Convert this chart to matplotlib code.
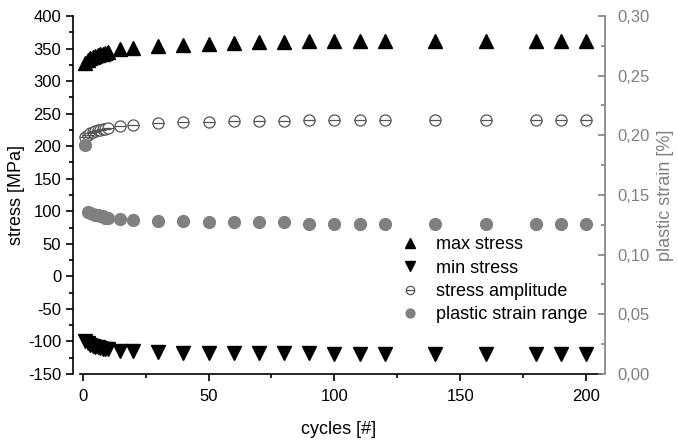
import numpy as np
import matplotlib
matplotlib.use("Agg")
from matplotlib import pyplot as plt
from matplotlib.ticker import MultipleLocator, FuncFormatter
from matplotlib.legend_handler import HandlerTuple

plt.rcParams['font.family'] = ['Liberation Sans', 'DejaVu Sans']
plt.rcParams['axes.unicode_minus'] = False

# cycle numbers
cycles = [1, 2, 3, 4, 5, 6, 7, 8, 9, 10, 15, 20, 30, 40, 50, 60, 70, 80, 90,
          100, 110, 120, 140, 160, 180, 190, 200]

# stresses in MPa
max_stress = [328, 332, 335, 337, 339, 340, 341, 342, 343, 344, 349, 351, 354,
              356, 357, 359, 360, 360, 361, 361, 361, 362, 362, 362, 362, 362, 362]
min_stress = [-100, -103, -105, -107, -108, -109, -110, -111, -111, -112, -114,
              -115, -116, -117, -117, -118, -118, -118, -118, -119, -119, -119,
              -119, -119, -119, -119, -119]
stress_amp = [214, 217.5, 220, 222, 223.5, 224.5, 225.5, 226.5, 227, 228, 231.5,
              233, 235, 236.5, 237, 238.5, 239, 239, 239.5, 240, 240, 240.5,
              240.5, 240.5, 240.5, 240.5, 240.5]

# plastic strain range in %
plastic_strain = [0.192, 0.136, 0.135, 0.134, 0.133, 0.133, 0.132, 0.132, 0.131,
                  0.131, 0.130, 0.129, 0.128, 0.128, 0.127, 0.127, 0.127, 0.127,
                  0.126, 0.126, 0.126, 0.126, 0.126, 0.126, 0.126, 0.126, 0.126]

GREY = '#808080'

fig = plt.figure(figsize=(6.78, 4.45), dpi=100)
ax = fig.add_axes([73 / 678, 1 - 374 / 445, 532 / 678, 358 / 445])
ax2 = ax.twinx()

h_max, = ax.plot(cycles, max_stress, '^', color='black', ms=10, ls='none')
h_min, = ax.plot(cycles, min_stress, 'v', color='black', ms=10, ls='none')
h_amp1, = ax.plot(cycles, stress_amp, 'o', mfc='white', mec='#555555', mew=0.9,
                  ms=8, ls='none')
h_amp2, = ax.plot(cycles, stress_amp, '_', color='#555555', mew=0.9, ms=8,
                  ls='none')
h_pl, = ax2.plot(cycles, plastic_strain, 'o', color=GREY, ms=8.5, ls='none')

ax.set_xlim(-3.8, 207.4)
ax.set_ylim(-150, 400)
ax2.set_ylim(0, 0.3)

for a in (ax, ax2):
    a.spines['top'].set_visible(False)
ax2.spines['left'].set_visible(False)
ax2.spines['bottom'].set_visible(False)
ax.spines['right'].set_visible(False)
ax.spines['bottom'].set_bounds(-1, 206)
ax2.spines['right'].set_color(GREY)
ax2.spines['right'].set_linewidth(1.2)
ax.spines['left'].set_linewidth(1.2)
ax.spines['bottom'].set_linewidth(1.2)

ax.xaxis.set_major_locator(MultipleLocator(50))
ax.xaxis.set_minor_locator(MultipleLocator(25))
ax.yaxis.set_major_locator(MultipleLocator(50))
ax.yaxis.set_minor_locator(MultipleLocator(25))
ax2.yaxis.set_major_locator(MultipleLocator(0.05))
ax2.yaxis.set_minor_locator(MultipleLocator(0.025))
ax2.yaxis.set_major_formatter(FuncFormatter(lambda v, p: f"{v:.2f}".replace('.', ',')))

ax.tick_params(axis='both', which='major', direction='out', length=5, width=1.2,
               labelsize=12, colors='black')
ax.tick_params(axis='both', which='minor', direction='out', length=3, width=1.2)
ax.tick_params(axis='x', which='major', pad=6)
ax2.tick_params(axis='y', which='major', direction='in', length=5, width=1.2,
                labelsize=12, colors=GREY, pad=9)
ax2.tick_params(axis='y', which='minor', direction='in', length=3, width=1.2,
                colors=GREY)

ax.set_xlabel('cycles [#]', fontsize=13, labelpad=12)
ax.set_ylabel('stress [MPa]', fontsize=13, labelpad=2)
ax2.set_ylabel('plastic strain [%]', fontsize=13, color=GREY, labelpad=5)

ax2.legend([h_max, h_min, (h_amp1, h_amp2), h_pl],
           ['max stress', 'min stress', 'stress amplitude', 'plastic strain range'],
           handler_map={tuple: HandlerTuple(ndivide=1)},
           loc='upper left', bbox_to_anchor=(0.6, 0.405), frameon=False,
           fontsize=13, markerscale=0.75, handletextpad=0.8, labelspacing=0.35,
           handlelength=1.2, borderaxespad=0)

fig.savefig('out.png', dpi=100)
